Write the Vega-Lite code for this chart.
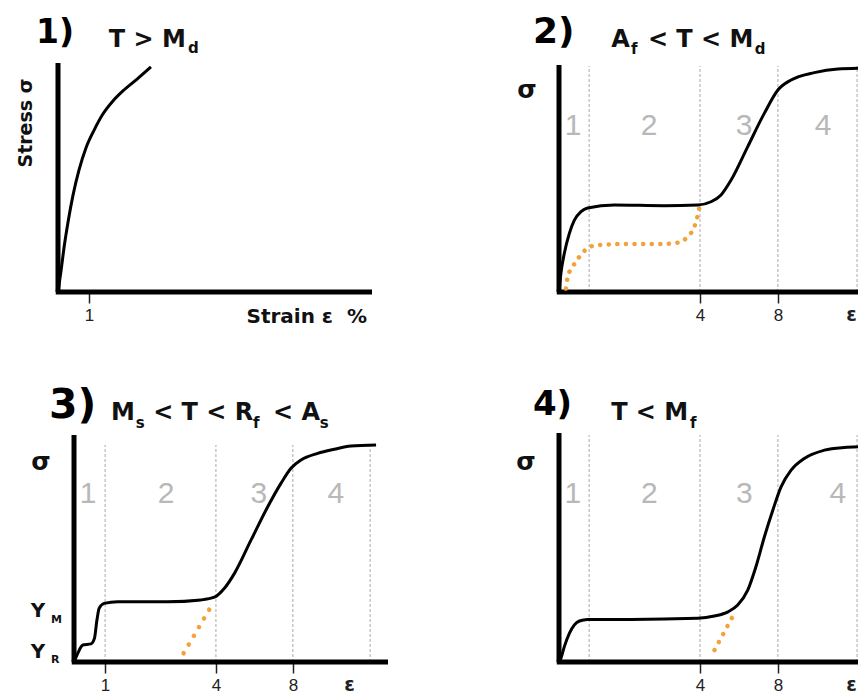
{
  "$schema": "https://vega.github.io/schema/vega-lite/v6.json",
  "background": "white",
  "autosize": {"type": "pad"},
  "padding": {"left": 16, "top": 14, "right": 0, "bottom": 0},
  "columns": 2,
  "spacing": {"row": 141, "column": 171},
  "bounds": "flush",
  "resolve": {"scale": {"x": "independent", "y": "independent"}},
  "config": {"view": {"stroke": null}},
  "datasets": {
    "p1": [
      {"k": "axis", "x": 0, "y": 0, "x2": 0, "y2": 100},
      {"k": "axis", "x": -0.72, "y": 0, "x2": 100, "y2": 0},
      {"k": "curve", "x": 0, "y": 0},
      {"k": "curve", "x": 1.0, "y": 9.6},
      {"k": "curve", "x": 1.9, "y": 19.2},
      {"k": "curve", "x": 3.2, "y": 30.6},
      {"k": "curve", "x": 4.8, "y": 42.4},
      {"k": "curve", "x": 6.7, "y": 53.3},
      {"k": "curve", "x": 8.9, "y": 62.9},
      {"k": "curve", "x": 11.5, "y": 70.7},
      {"k": "curve", "x": 14.3, "y": 77.7},
      {"k": "curve", "x": 17.5, "y": 83.4},
      {"k": "curve", "x": 21.0, "y": 88.2},
      {"k": "curve", "x": 25.2, "y": 93.0},
      {"k": "curve", "x": 29.6, "y": 98.3},
      {"k": "big", "x": -7.0, "y": 108.6, "t": "1)"},
      {"k": "main", "x": 16.2, "y": 107.0, "t": "T > M"},
      {"k": "sub", "x": 41.4, "y": 104.4, "t": "d"},
      {"k": "ylab", "x": -8.3, "y": 73.8, "t": "Stress σ"},
      {"k": "xlab", "x": 98.4, "y": -13.5, "t": "Strain ε\u00a0\u00a0%"}
    ],
    "p2": [
      {"k": "grid", "x": 9.6, "y": 0, "y2": 98.7},
      {"k": "grid", "x": 44.9, "y": 0, "y2": 98.7},
      {"k": "grid", "x": 69.7, "y": 0, "y2": 98.7},
      {"k": "grid", "x": 94.9, "y": 0, "y2": 98.7},
      {"k": "zone", "x": 4.5, "y": 68.6, "t": "1"},
      {"k": "zone", "x": 28.7, "y": 68.6, "t": "2"},
      {"k": "zone", "x": 58.9, "y": 68.6, "t": "3"},
      {"k": "zone", "x": 84.1, "y": 68.6, "t": "4"},
      {"k": "axis", "x": 0, "y": 0, "x2": 0, "y2": 99.1},
      {"k": "axis", "x": -0.72, "y": 0, "x2": 95.2, "y2": 0},
      {"k": "orange", "x": 2.2, "y": 1.5},
      {"k": "orange", "x": 2.8, "y": 6.7},
      {"k": "orange", "x": 4.4, "y": 11.1},
      {"k": "orange", "x": 6.5, "y": 15.4},
      {"k": "orange", "x": 9.1, "y": 19.1},
      {"k": "orange", "x": 12.3, "y": 20.5},
      {"k": "orange", "x": 22.9, "y": 21.0},
      {"k": "orange", "x": 33.5, "y": 21.0},
      {"k": "orange", "x": 38.3, "y": 21.7},
      {"k": "orange", "x": 41.0, "y": 24.2},
      {"k": "orange", "x": 43.1, "y": 28.5},
      {"k": "orange", "x": 44.2, "y": 33.6},
      {"k": "orange", "x": 44.7, "y": 37.0},
      {"k": "curve", "x": 0, "y": 0},
      {"k": "curve", "x": 0.6, "y": 8.1},
      {"k": "curve", "x": 1.7, "y": 16.9},
      {"k": "curve", "x": 3.3, "y": 25.6},
      {"k": "curve", "x": 4.9, "y": 31.4},
      {"k": "curve", "x": 7.0, "y": 35.1},
      {"k": "curve", "x": 9.1, "y": 36.7},
      {"k": "curve", "x": 17.6, "y": 38.0},
      {"k": "curve", "x": 33.5, "y": 37.7},
      {"k": "curve", "x": 44.2, "y": 38.0},
      {"k": "curve", "x": 48.4, "y": 39.4},
      {"k": "curve", "x": 51.6, "y": 42.4},
      {"k": "curve", "x": 54.8, "y": 48.9},
      {"k": "curve", "x": 60.1, "y": 63.5},
      {"k": "curve", "x": 65.4, "y": 78.1},
      {"k": "curve", "x": 69.7, "y": 88.2},
      {"k": "curve", "x": 73.9, "y": 92.6},
      {"k": "curve", "x": 81.3, "y": 95.8},
      {"k": "curve", "x": 88.8, "y": 97.4},
      {"k": "curve", "x": 95.2, "y": 97.7},
      {"k": "sigma", "x": -10.2, "y": 84.7, "t": "σ"},
      {"k": "big", "x": -8.3, "y": 108.7, "t": "2)"},
      {"k": "main", "x": 16.6, "y": 107.0, "t": "A"},
      {"k": "sub", "x": 22.9, "y": 104.0, "t": "f"},
      {"k": "main", "x": 28.3, "y": 107.0, "t": "< T < M"},
      {"k": "sub", "x": 62.3, "y": 104.0, "t": "d"}
    ],
    "p3": [
      {"k": "grid", "x": 9.9, "y": 0, "y2": 94.8},
      {"k": "grid", "x": 45.2, "y": 0, "y2": 94.8},
      {"k": "grid", "x": 69.7, "y": 0, "y2": 94.8},
      {"k": "grid", "x": 94.3, "y": 0, "y2": 94.8},
      {"k": "zone", "x": 4.5, "y": 69.4, "t": "1"},
      {"k": "zone", "x": 29.3, "y": 69.4, "t": "2"},
      {"k": "zone", "x": 58.9, "y": 69.4, "t": "3"},
      {"k": "zone", "x": 83.4, "y": 69.4, "t": "4"},
      {"k": "axis", "x": 0, "y": 0, "x2": 0, "y2": 99.1},
      {"k": "axis", "x": -0.72, "y": 0, "x2": 100, "y2": 0},
      {"k": "orange", "x": 34.9, "y": 3.8},
      {"k": "orange", "x": 43.6, "y": 24.1},
      {"k": "curve", "x": 0, "y": 0},
      {"k": "curve", "x": 1.2, "y": 3.8},
      {"k": "curve", "x": 2.8, "y": 7.4},
      {"k": "curve", "x": 5.4, "y": 7.9},
      {"k": "curve", "x": 6.5, "y": 10.3},
      {"k": "curve", "x": 7.3, "y": 18.3},
      {"k": "curve", "x": 8.0, "y": 23.4},
      {"k": "curve", "x": 9.6, "y": 25.6},
      {"k": "curve", "x": 13.9, "y": 26.3},
      {"k": "curve", "x": 29.8, "y": 26.3},
      {"k": "curve", "x": 40.4, "y": 27.1},
      {"k": "curve", "x": 44.7, "y": 28.3},
      {"k": "curve", "x": 47.9, "y": 32.2},
      {"k": "curve", "x": 51.1, "y": 38.7},
      {"k": "curve", "x": 56.4, "y": 53.3},
      {"k": "curve", "x": 61.7, "y": 67.8},
      {"k": "curve", "x": 65.9, "y": 78.0},
      {"k": "curve", "x": 69.1, "y": 84.6},
      {"k": "curve", "x": 72.3, "y": 88.2},
      {"k": "curve", "x": 77.6, "y": 91.1},
      {"k": "curve", "x": 82.9, "y": 92.9},
      {"k": "curve", "x": 88.2, "y": 94.3},
      {"k": "curve", "x": 96.2, "y": 94.8},
      {"k": "sigma", "x": -10.5, "y": 83.8, "t": "σ"},
      {"k": "big", "x": -8.0, "y": 106.6, "t": "3)"},
      {"k": "main", "x": 11.8, "y": 105.7, "t": "M"},
      {"k": "sub", "x": 19.7, "y": 102.2, "t": "s"},
      {"k": "main", "x": 25.2, "y": 105.7, "t": "< T < R"},
      {"k": "sub", "x": 57.0, "y": 102.2, "t": "f"},
      {"k": "main", "x": 63.4, "y": 105.7, "t": "< A"},
      {"k": "sub", "x": 78.3, "y": 102.2, "t": "s"},
      {"k": "ymain", "x": -13.8, "y": 19.7, "t": "Y"},
      {"k": "ysub", "x": -7.3, "y": 17.0, "t": "M"},
      {"k": "ymain", "x": -13.8, "y": 1.7, "t": "Y"},
      {"k": "ysub", "x": -7.3, "y": -0.4, "t": "R"}
    ],
    "p4": [
      {"k": "grid", "x": 9.6, "y": 0, "y2": 99.1},
      {"k": "grid", "x": 44.9, "y": 0, "y2": 99.1},
      {"k": "grid", "x": 69.7, "y": 0, "y2": 99.1},
      {"k": "grid", "x": 94.9, "y": 0, "y2": 99.1},
      {"k": "zone", "x": 4.4, "y": 69.4, "t": "1"},
      {"k": "zone", "x": 28.8, "y": 69.4, "t": "2"},
      {"k": "zone", "x": 59.0, "y": 69.4, "t": "3"},
      {"k": "zone", "x": 88.8, "y": 69.4, "t": "4"},
      {"k": "axis", "x": 0, "y": 0, "x2": 0, "y2": 100},
      {"k": "axis", "x": -0.72, "y": 0, "x2": 95.2, "y2": 0},
      {"k": "orange", "x": 49.5, "y": 5.2},
      {"k": "orange", "x": 55.8, "y": 21.2},
      {"k": "curve", "x": 0, "y": 0},
      {"k": "curve", "x": 0.6, "y": 1.6},
      {"k": "curve", "x": 1.7, "y": 6.7},
      {"k": "curve", "x": 3.3, "y": 12.5},
      {"k": "curve", "x": 4.9, "y": 16.2},
      {"k": "curve", "x": 6.5, "y": 17.9},
      {"k": "curve", "x": 9.1, "y": 18.6},
      {"k": "curve", "x": 22.9, "y": 18.6},
      {"k": "curve", "x": 44.2, "y": 19.1},
      {"k": "curve", "x": 49.5, "y": 20.1},
      {"k": "curve", "x": 53.8, "y": 21.9},
      {"k": "curve", "x": 56.9, "y": 24.9},
      {"k": "curve", "x": 60.1, "y": 31.4},
      {"k": "curve", "x": 62.7, "y": 41.6},
      {"k": "curve", "x": 65.4, "y": 54.7},
      {"k": "curve", "x": 68.1, "y": 66.4},
      {"k": "curve", "x": 70.7, "y": 76.5},
      {"k": "curve", "x": 73.9, "y": 83.8},
      {"k": "curve", "x": 78.1, "y": 88.9},
      {"k": "curve", "x": 84.5, "y": 92.5},
      {"k": "curve", "x": 90.9, "y": 93.7},
      {"k": "curve", "x": 95.2, "y": 94.0},
      {"k": "sigma", "x": -10.5, "y": 83.8, "t": "σ"},
      {"k": "big", "x": -8.3, "y": 107.9, "t": "4)"},
      {"k": "main", "x": 16.6, "y": 105.7, "t": "T < M"},
      {"k": "sub", "x": 41.7, "y": 102.2, "t": "f"}
    ]
  },
  "concat": [
    {
      "width": 314, "height": 229,
      "data": {"name": "p1"},
      "encoding": {
        "x": {"field": "x", "type": "quantitative", "scale": {"domain": [0, 100], "nice": false, "zero": false},
          "axis": {"title": null, "domain": false, "grid": false, "values": [9.9], "labelExpr": "datum.value > 80 ? 'ε' : datum.value > 60 ? '8' : datum.value > 30 ? '4' : '1'", "tickSize": 11, "tickWidth": 1.5, "tickColor": "#222", "labelFont": "Liberation Sans", "labelFontSize": 17, "labelColor": "#222", "labelPadding": 4, "labelFlush": false, "labelOverlap": false}},
        "y": {"field": "y", "type": "quantitative", "scale": {"domain": [0, 100], "nice": false, "zero": false}, "axis": null}
      },
      "layer": [
        {"transform": [{"filter": "datum.k === 'axis'"}], "mark": {"type": "rule", "color": "black", "strokeWidth": 5, "strokeCap": "butt"}, "encoding": {"x2": {"field": "x2"}, "y2": {"field": "y2"}}},
        {"transform": [{"filter": "datum.k === 'curve'"}], "mark": {"type": "line", "color": "black", "strokeWidth": 3, "interpolate": "monotone"}, "encoding": {}},
        {"transform": [{"filter": "datum.k === 'big'"}], "mark": {"type": "text", "font": "DejaVu Sans", "fontWeight": "bold", "fontSize": 33, "align": "left", "baseline": "alphabetic", "color": "black"}, "encoding": {"text": {"field": "t", "type": "nominal"}}},
        {"transform": [{"filter": "datum.k === 'main'"}], "mark": {"type": "text", "font": "DejaVu Sans", "fontWeight": "bold", "fontSize": 24, "align": "left", "baseline": "alphabetic", "color": "#111"}, "encoding": {"text": {"field": "t", "type": "nominal"}}},
        {"transform": [{"filter": "datum.k === 'sub'"}], "mark": {"type": "text", "font": "DejaVu Sans", "fontWeight": "bold", "fontSize": 15, "align": "left", "baseline": "alphabetic", "color": "#111"}, "encoding": {"text": {"field": "t", "type": "nominal"}}},
        {"transform": [{"filter": "datum.k === 'ylab'"}], "mark": {"type": "text", "font": "DejaVu Sans", "fontWeight": "bold", "fontSize": 19, "align": "center", "baseline": "alphabetic", "angle": 270, "color": "#111"}, "encoding": {"text": {"field": "t", "type": "nominal"}}},
        {"transform": [{"filter": "datum.k === 'xlab'"}], "mark": {"type": "text", "font": "DejaVu Sans", "fontWeight": "bold", "fontSize": 20, "align": "right", "baseline": "alphabetic", "color": "#111"}, "encoding": {"text": {"field": "t", "type": "nominal"}}}
      ]
    },
    {
      "width": 299, "height": 229,
      "data": {"name": "p2"},
      "encoding": {
        "x": {"field": "x", "type": "quantitative", "scale": {"domain": [0, 95.2], "nice": false, "zero": false},
          "axis": {"title": null, "domain": false, "grid": false, "values": [44.9, 69.7, 93.0], "labelExpr": "datum.value > 80 ? 'ε' : datum.value > 60 ? '8' : datum.value > 30 ? '4' : '1'", "tickSize": 11, "tickWidth": 1.5, "tickColor": {"condition": {"test": "datum.value > 80", "value": "transparent"}, "value": "#222"}, "labelFont": {"condition": {"test": "datum.value > 80", "value": "DejaVu Sans"}, "value": "Liberation Sans"}, "labelFontSize": {"condition": {"test": "datum.value > 80", "value": 19}, "value": 17}, "labelFontWeight": {"condition": {"test": "datum.value > 80", "value": "bold"}, "value": "normal"}, "labelPadding": {"condition": {"test": "datum.value > 80", "value": 2}, "value": 4}, "labelColor": "#222", "labelFlush": false, "labelOverlap": false}},
        "y": {"field": "y", "type": "quantitative", "scale": {"domain": [0, 100], "nice": false, "zero": false}, "axis": null}
      },
      "layer": [
        {"transform": [{"filter": "datum.k === 'grid'"}], "mark": {"type": "rule", "color": "#aaaaaa", "strokeWidth": 1, "strokeDash": [3, 2]}, "encoding": {"y2": {"field": "y2"}}},
        {"transform": [{"filter": "datum.k === 'zone'"}], "mark": {"type": "text", "font": "Liberation Sans", "fontSize": 30, "align": "center", "baseline": "alphabetic", "color": "#b8b8b8"}, "encoding": {"text": {"field": "t", "type": "nominal"}}},
        {"transform": [{"filter": "datum.k === 'axis'"}], "mark": {"type": "rule", "color": "black", "strokeWidth": 5, "strokeCap": "butt"}, "encoding": {"x2": {"field": "x2"}, "y2": {"field": "y2"}}},
        {"transform": [{"filter": "datum.k === 'orange'"}], "mark": {"type": "line", "color": "#F2A23A", "strokeWidth": 4.5, "strokeDash": [0.1, 8.5], "strokeCap": "round", "interpolate": "monotone"}, "encoding": {}},
        {"transform": [{"filter": "datum.k === 'curve'"}], "mark": {"type": "line", "color": "black", "strokeWidth": 3, "interpolate": "monotone"}, "encoding": {}},
        {"transform": [{"filter": "datum.k === 'sigma'"}], "mark": {"type": "text", "font": "DejaVu Sans", "fontWeight": "bold", "fontSize": 25, "align": "center", "baseline": "alphabetic", "color": "#111"}, "encoding": {"text": {"field": "t", "type": "nominal"}}},
        {"transform": [{"filter": "datum.k === 'big'"}], "mark": {"type": "text", "font": "DejaVu Sans", "fontWeight": "bold", "fontSize": 36, "align": "left", "baseline": "alphabetic", "color": "black"}, "encoding": {"text": {"field": "t", "type": "nominal"}}},
        {"transform": [{"filter": "datum.k === 'main'"}], "mark": {"type": "text", "font": "DejaVu Sans", "fontWeight": "bold", "fontSize": 24, "align": "left", "baseline": "alphabetic", "color": "#111"}, "encoding": {"text": {"field": "t", "type": "nominal"}}},
        {"transform": [{"filter": "datum.k === 'sub'"}], "mark": {"type": "text", "font": "DejaVu Sans", "fontWeight": "bold", "fontSize": 15, "align": "left", "baseline": "alphabetic", "color": "#111"}, "encoding": {"text": {"field": "t", "type": "nominal"}}}
      ]
    },
    {
      "width": 330, "height": 229,
      "data": {"name": "p3"},
      "encoding": {
        "x": {"field": "x", "type": "quantitative", "scale": {"domain": [-5.1, 100], "nice": false, "zero": false},
          "axis": {"title": null, "domain": false, "grid": false, "values": [9.9, 45.2, 69.7, 87.6], "labelExpr": "datum.value > 80 ? 'ε' : datum.value > 60 ? '8' : datum.value > 30 ? '4' : '1'", "tickSize": 11, "tickWidth": 1.5, "tickColor": {"condition": {"test": "datum.value > 80", "value": "transparent"}, "value": "#222"}, "labelFont": {"condition": {"test": "datum.value > 80", "value": "DejaVu Sans"}, "value": "Liberation Sans"}, "labelFontSize": {"condition": {"test": "datum.value > 80", "value": 19}, "value": 17}, "labelFontWeight": {"condition": {"test": "datum.value > 80", "value": "bold"}, "value": "normal"}, "labelPadding": {"condition": {"test": "datum.value > 80", "value": 2}, "value": 4}, "labelColor": "#222", "labelFlush": false, "labelOverlap": false}},
        "y": {"field": "y", "type": "quantitative", "scale": {"domain": [0, 100], "nice": false, "zero": false}, "axis": null}
      },
      "layer": [
        {"transform": [{"filter": "datum.k === 'grid'"}], "mark": {"type": "rule", "color": "#aaaaaa", "strokeWidth": 1, "strokeDash": [3, 2]}, "encoding": {"y2": {"field": "y2"}}},
        {"transform": [{"filter": "datum.k === 'zone'"}], "mark": {"type": "text", "font": "Liberation Sans", "fontSize": 30, "align": "center", "baseline": "alphabetic", "color": "#b8b8b8"}, "encoding": {"text": {"field": "t", "type": "nominal"}}},
        {"transform": [{"filter": "datum.k === 'axis'"}], "mark": {"type": "rule", "color": "black", "strokeWidth": 5, "strokeCap": "butt"}, "encoding": {"x2": {"field": "x2"}, "y2": {"field": "y2"}}},
        {"transform": [{"filter": "datum.k === 'orange'"}], "mark": {"type": "line", "color": "#F2A23A", "strokeWidth": 4.5, "strokeDash": [0.1, 10], "strokeCap": "round"}, "encoding": {}},
        {"transform": [{"filter": "datum.k === 'curve'"}], "mark": {"type": "line", "color": "black", "strokeWidth": 3, "interpolate": "monotone"}, "encoding": {}},
        {"transform": [{"filter": "datum.k === 'sigma'"}], "mark": {"type": "text", "font": "DejaVu Sans", "fontWeight": "bold", "fontSize": 25, "align": "center", "baseline": "alphabetic", "color": "#111"}, "encoding": {"text": {"field": "t", "type": "nominal"}}},
        {"transform": [{"filter": "datum.k === 'big'"}], "mark": {"type": "text", "font": "DejaVu Sans", "fontWeight": "bold", "fontSize": 41, "align": "left", "baseline": "alphabetic", "color": "black"}, "encoding": {"text": {"field": "t", "type": "nominal"}}},
        {"transform": [{"filter": "datum.k === 'main'"}], "mark": {"type": "text", "font": "DejaVu Sans", "fontWeight": "bold", "fontSize": 24, "align": "left", "baseline": "alphabetic", "color": "#111"}, "encoding": {"text": {"field": "t", "type": "nominal"}}},
        {"transform": [{"filter": "datum.k === 'sub'"}], "mark": {"type": "text", "font": "DejaVu Sans", "fontWeight": "bold", "fontSize": 15, "align": "left", "baseline": "alphabetic", "color": "#111"}, "encoding": {"text": {"field": "t", "type": "nominal"}}},
        {"transform": [{"filter": "datum.k === 'ymain'"}], "mark": {"type": "text", "font": "DejaVu Sans", "fontWeight": "bold", "fontSize": 20, "align": "left", "baseline": "alphabetic", "color": "#111"}, "encoding": {"text": {"field": "t", "type": "nominal"}}},
        {"transform": [{"filter": "datum.k === 'ysub'"}], "mark": {"type": "text", "font": "DejaVu Sans", "fontWeight": "bold", "fontSize": 11, "align": "left", "baseline": "alphabetic", "color": "#111"}, "encoding": {"text": {"field": "t", "type": "nominal"}}}
      ]
    },
    {
      "width": 299, "height": 229,
      "data": {"name": "p4"},
      "encoding": {
        "x": {"field": "x", "type": "quantitative", "scale": {"domain": [0, 95.2], "nice": false, "zero": false},
          "axis": {"title": null, "domain": false, "grid": false, "values": [44.9, 69.7, 93.0], "labelExpr": "datum.value > 80 ? 'ε' : datum.value > 60 ? '8' : datum.value > 30 ? '4' : '1'", "tickSize": 11, "tickWidth": 1.5, "tickColor": {"condition": {"test": "datum.value > 80", "value": "transparent"}, "value": "#222"}, "labelFont": {"condition": {"test": "datum.value > 80", "value": "DejaVu Sans"}, "value": "Liberation Sans"}, "labelFontSize": {"condition": {"test": "datum.value > 80", "value": 19}, "value": 17}, "labelFontWeight": {"condition": {"test": "datum.value > 80", "value": "bold"}, "value": "normal"}, "labelPadding": {"condition": {"test": "datum.value > 80", "value": 2}, "value": 4}, "labelColor": "#222", "labelFlush": false, "labelOverlap": false}},
        "y": {"field": "y", "type": "quantitative", "scale": {"domain": [0, 100], "nice": false, "zero": false}, "axis": null}
      },
      "layer": [
        {"transform": [{"filter": "datum.k === 'grid'"}], "mark": {"type": "rule", "color": "#aaaaaa", "strokeWidth": 1, "strokeDash": [3, 2]}, "encoding": {"y2": {"field": "y2"}}},
        {"transform": [{"filter": "datum.k === 'zone'"}], "mark": {"type": "text", "font": "Liberation Sans", "fontSize": 30, "align": "center", "baseline": "alphabetic", "color": "#b8b8b8"}, "encoding": {"text": {"field": "t", "type": "nominal"}}},
        {"transform": [{"filter": "datum.k === 'axis'"}], "mark": {"type": "rule", "color": "black", "strokeWidth": 5, "strokeCap": "butt"}, "encoding": {"x2": {"field": "x2"}, "y2": {"field": "y2"}}},
        {"transform": [{"filter": "datum.k === 'orange'"}], "mark": {"type": "line", "color": "#F2A23A", "strokeWidth": 4.5, "strokeDash": [0.1, 9], "strokeCap": "round"}, "encoding": {}},
        {"transform": [{"filter": "datum.k === 'curve'"}], "mark": {"type": "line", "color": "black", "strokeWidth": 3, "interpolate": "monotone"}, "encoding": {}},
        {"transform": [{"filter": "datum.k === 'sigma'"}], "mark": {"type": "text", "font": "DejaVu Sans", "fontWeight": "bold", "fontSize": 25, "align": "center", "baseline": "alphabetic", "color": "#111"}, "encoding": {"text": {"field": "t", "type": "nominal"}}},
        {"transform": [{"filter": "datum.k === 'big'"}], "mark": {"type": "text", "font": "DejaVu Sans", "fontWeight": "bold", "fontSize": 34, "align": "left", "baseline": "alphabetic", "color": "black"}, "encoding": {"text": {"field": "t", "type": "nominal"}}},
        {"transform": [{"filter": "datum.k === 'main'"}], "mark": {"type": "text", "font": "DejaVu Sans", "fontWeight": "bold", "fontSize": 24, "align": "left", "baseline": "alphabetic", "color": "#111"}, "encoding": {"text": {"field": "t", "type": "nominal"}}},
        {"transform": [{"filter": "datum.k === 'sub'"}], "mark": {"type": "text", "font": "DejaVu Sans", "fontWeight": "bold", "fontSize": 15, "align": "left", "baseline": "alphabetic", "color": "#111"}, "encoding": {"text": {"field": "t", "type": "nominal"}}}
      ]
    }
  ]
}
